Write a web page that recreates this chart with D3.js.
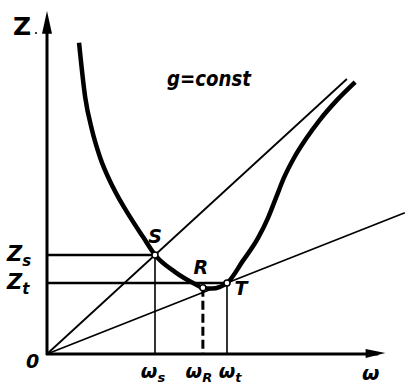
<!DOCTYPE html>
<html>
<head>
<meta charset="utf-8">
<script src="https://cdn.jsdelivr.net/npm/d3@7"></script>
<style>
  html, body { margin: 0; padding: 0; background: #fff; }
  svg { display: block; }
  .lbl { font-family: "DejaVu Sans", "Liberation Sans", sans-serif; font-style: italic; font-weight: bold; fill: #000; }
</style>
</head>
<body>
<svg id="chart" width="407" height="387"></svg>
<script>
// Z(ω) curve at constant g
const curveOmega = [0.89, 1.06, 1.25, 1.47, 1.83, 2.31, 2.67, 3.00, 3.56, 4.11, 4.33, 4.58, 5.00, 5.44, 5.86, 6.14, 6.36, 6.58, 6.86, 7.19, 7.58, 8.06, 8.56];
const curveZ     = [8.89, 7.34, 6.40, 5.63, 4.77, 3.91, 3.34, 2.83, 2.34, 2.00, 1.89, 1.87, 2.03, 2.66, 3.31, 3.89, 4.46, 5.03, 5.60, 6.14, 6.69, 7.26, 7.77];

// marked points S, R, T
const pointNames = ["S", "R", "T"];
const pointOmega = [3.00, 4.33, 5.00];
const pointZ     = [2.83, 1.89, 2.03];

// rays from the origin: through S and through T (tangent)
const rayEndOmega = [8.33, 9.94];

// axis tick labels
const zTickLabels = [["Z", "s"], ["Z", "t"]];
const omegaTickLabels = [["ω", "s"], ["ω", "R"], ["ω", "t"]];

const svg = d3.select("#chart");
const x = d3.scaleLinear().domain([0, 10]).range([47, 407]);
const y = d3.scaleLinear().domain([0, 10]).range([354, 4]);

const pts = pointOmega.map((w, i) => ({ name: pointNames[i], w, z: pointZ[i] }));
const S = pts[0], R = pts[1], T = pts[2];

// axes with arrowheads
svg.append("line").attr("x1", x(0)).attr("y1", y(0) + 1).attr("x2", x(0)).attr("y2", y(9.4))
  .attr("stroke", "#000").attr("stroke-width", 3);
svg.append("path")
  .attr("d", `M${x(0)},${y(9.8)} L${x(0) - 5},${y(9.15)} L${x(0) + 5},${y(9.15)} Z`)
  .attr("fill", "#000");
svg.append("line").attr("x1", x(0) - 1).attr("y1", y(0)).attr("x2", x(9.2)).attr("y2", y(0))
  .attr("stroke", "#000").attr("stroke-width", 3);
svg.append("path")
  .attr("d", `M${x(9.4)},${y(0) - 1} L${x(8.85)},${y(0) - 5} L${x(8.85)},${y(0) + 4} Z`)
  .attr("fill", "#000");

// rays
const slopes = [S.z / S.w, T.z / T.w];
rayEndOmega.forEach((we, i) => {
  svg.append("line")
    .attr("x1", x(0)).attr("y1", y(0))
    .attr("x2", x(we)).attr("y2", y(slopes[i] * we))
    .attr("stroke", "#000").attr("stroke-width", 1.8);
});

// level lines Zs, Zt
[S, T].forEach(p => {
  svg.append("line").attr("x1", x(0)).attr("y1", y(p.z)).attr("x2", x(p.w)).attr("y2", y(p.z))
    .attr("stroke", "#000").attr("stroke-width", 2.5);
});

// drop lines to the ω axis
[S, T].forEach(p => {
  svg.append("line").attr("x1", x(p.w)).attr("y1", y(p.z)).attr("x2", x(p.w)).attr("y2", y(0))
    .attr("stroke", "#000").attr("stroke-width", 1.6);
});
svg.append("line").attr("x1", x(R.w)).attr("y1", y(R.z)).attr("x2", x(R.w)).attr("y2", y(0))
  .attr("stroke", "#000").attr("stroke-width", 3).attr("stroke-dasharray", "9,4");

// the curve
const line = d3.line().x(d => x(d[0])).y(d => y(d[1])).curve(d3.curveMonotoneX);
svg.append("path")
  .datum(curveOmega.map((w, i) => [w, curveZ[i]]))
  .attr("d", line)
  .attr("fill", "none").attr("stroke", "#000").attr("stroke-width", 4.5)
  .attr("stroke-linecap", "butt");

// point markers
svg.selectAll("circle.pt").data(pts).enter().append("circle")
  .attr("class", "pt")
  .attr("cx", d => x(d.w)).attr("cy", d => y(d.z)).attr("r", 3)
  .attr("fill", "#fff").attr("stroke", "#000").attr("stroke-width", 1.5);

// point names
const nameOffsets = { S: [0, -12], R: [-2, -14], T: [14, 12] };
pts.forEach(p => {
  const o = nameOffsets[p.name];
  svg.append("text").attr("class", "lbl")
    .attr("x", x(p.w) + o[0]).attr("y", y(p.z) + o[1])
    .attr("text-anchor", "middle").attr("font-size", 19)
    .text(p.name);
});

// axis titles
svg.append("text").attr("x", 13).attr("y", 35)
  .attr("font-family", "DejaVu Sans, sans-serif").attr("font-weight", "bold").attr("font-size", 25)
  .text("Z");
svg.append("circle").attr("cx", 36).attr("cy", 33).attr("r", 1).attr("fill", "#000");
svg.append("text").attr("class", "lbl").attr("x", 362).attr("y", 380).attr("font-size", 20).text("ω");
svg.append("text").attr("class", "lbl").attr("x", 26).attr("y", 368).attr("font-size", 19).text("0");

// Z tick labels
[S, T].forEach((p, i) => {
  const t = svg.append("text").attr("class", "lbl").attr("x", 7).attr("y", y(p.z) + 6).attr("font-size", 21);
  t.append("tspan").text(zTickLabels[i][0]);
  t.append("tspan").attr("dy", 5).attr("font-size", 15).text(zTickLabels[i][1]);
});

// ω tick labels
const omegaLabelX = [S.w, R.w, T.w];
const omegaLabelShift = [-2, -4, 3];
omegaLabelX.forEach((w, i) => {
  const t = svg.append("text").attr("class", "lbl")
    .attr("x", x(w) + omegaLabelShift[i]).attr("y", 378)
    .attr("text-anchor", "middle").attr("font-size", 19);
  t.append("tspan").text(omegaTickLabels[i][0]);
  t.append("tspan").attr("dy", 4).attr("font-size", 13).text(omegaTickLabels[i][1]);
});

// curve parameter note
svg.append("text").attr("class", "lbl")
  .attr("x", 167).attr("y", 86).attr("font-size", 22)
  .attr("textLength", 84).attr("lengthAdjust", "spacingAndGlyphs")
  .text("g=const");
</script>
</body>
</html>
